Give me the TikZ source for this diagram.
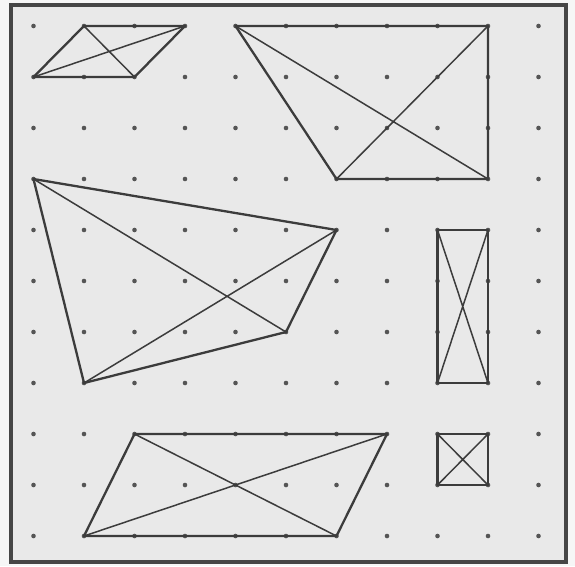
\documentclass[tikz,border=0pt]{standalone}
\definecolor{outerbg}{RGB}{246,246,246}
\definecolor{boardbg}{RGB}{233,233,233}
\definecolor{band}{RGB}{60,60,60}
\definecolor{pegc}{RGB}{85,85,85}
\definecolor{framec}{RGB}{70,70,70}
\begin{document}
\begin{tikzpicture}[x=1pt,y=-1pt,
  frame/.style={draw=framec,line width=3.6pt,fill=boardbg},
  edge/.style={draw=band,line width=2.3pt,line join=round,line cap=round},
  diag/.style={draw=band,line width=1.5pt,line cap=round},
  peg/.style={fill=pegc}]
\useasboundingbox (0,0) rectangle (575,566);
\fill[outerbg] (0,0) rectangle (575,566);
\draw[frame] (11,5) rectangle (566,562);
\foreach \i in {0,...,10}{
  \foreach \j in {0,...,10}{
    \coordinate (p-\i-\j) at ({33.5+50.5*\i},{26+51*\j});
    \fill[peg] (p-\i-\j) circle (2.3pt);
  }
}
% top-left parallelogram
\draw[edge] (p-1-0) -- (p-3-0) -- (p-2-1) -- (p-0-1) -- cycle;
\draw[diag] (p-1-0) -- (p-2-1) (p-0-1) -- (p-3-0);
% top-right quadrilateral
\draw[edge] (p-4-0) -- (p-9-0) -- (p-9-3) -- (p-6-3) -- cycle;
\draw[diag] (p-4-0) -- (p-9-3) (p-6-3) -- (p-9-0);
% large quadrilateral
\draw[edge] (p-0-3) -- (p-6-4) -- (p-5-6) -- (p-1-7) -- cycle;
\draw[diag] (p-0-3) -- (p-5-6) (p-1-7) -- (p-6-4);
% tall rectangle
\draw[edge] (p-8-4) -- (p-9-4) -- (p-9-7) -- (p-8-7) -- cycle;
\draw[diag] (p-8-4) -- (p-9-7) (p-8-7) -- (p-9-4);
% small square
\draw[edge] (p-8-8) -- (p-9-8) -- (p-9-9) -- (p-8-9) -- cycle;
\draw[diag] (p-8-8) -- (p-9-9) (p-8-9) -- (p-9-8);
% bottom parallelogram
\draw[edge] (p-2-8) -- (p-7-8) -- (p-6-10) -- (p-1-10) -- cycle;
\draw[diag] (p-2-8) -- (p-6-10) (p-1-10) -- (p-7-8);
\end{tikzpicture}
\end{document}
